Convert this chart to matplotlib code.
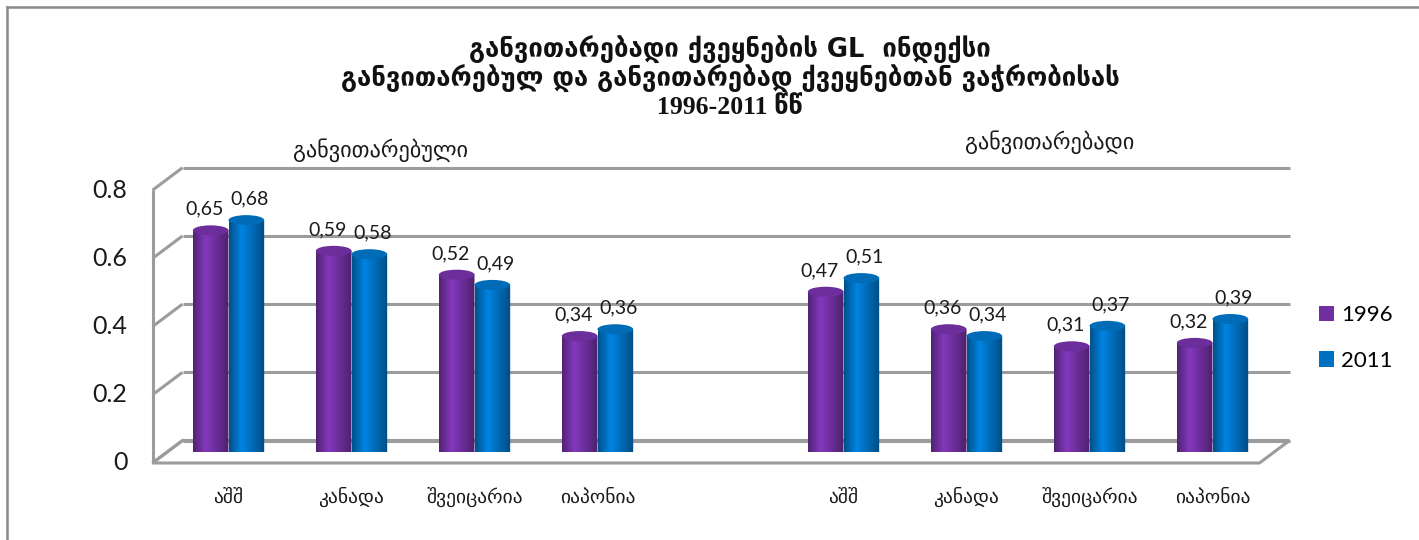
import numpy as np
import matplotlib
matplotlib.use("Agg")
import matplotlib.pyplot as plt
from matplotlib.patches import Ellipse, PathPatch, Patch, Polygon
from matplotlib.path import Path
from matplotlib.colors import to_rgb

# ---------------- data ----------------
title_lines = ["განვითარებადი ქვეყნების GL  ინდექსი",
               "განვითარებულ და განვითარებად ქვეყნებთან ვაჭრობისას",
               "1996-2011 წწ"]
group_names = ["განვითარებული", "განვითარებადი"]
countries = ["აშშ", "კანადა", "შვეიცარია", "იაპონია",
             "აშშ", "კანადა", "შვეიცარია", "იაპონია"]
series_names = ["1996", "2011"]
values_1996 = [0.65, 0.59, 0.52, 0.34, 0.47, 0.36, 0.31, 0.32]
values_2011 = [0.68, 0.58, 0.49, 0.36, 0.51, 0.34, 0.37, 0.39]
y_ticks = [0, 0.2, 0.4, 0.6, 0.8]
y_tick_labels = ["0", "0.2", "0.4", "0.6", "0.8"]

# ---------------- style ----------------
W, H, DPI = 1419, 540, 100
PURPLE = "#7030A0"
BLUE = "#0070C0"
GRID = "#9c9c9c"
NUM_FONT = ["Lato", "DejaVu Sans"]
GEO_FONT = ["DejaVu Sans"]

fig = plt.figure(figsize=(W / DPI, H / DPI), dpi=DPI)
fig.patch.set_facecolor("white")

# outer frame (chart area border)
fig.add_artist(plt.Line2D([7 / W, 7 / W], [0, 1 - 7 / H], color="#8a8a8a", lw=1.8))
fig.add_artist(plt.Line2D([7 / W, 1], [1 - 7 / H, 1 - 7 / H], color="#8a8a8a", lw=1.8))

# plot area (middle depth plane)
PX_L, PX_W = 167.0, 1107.0   # left pixel, width in pixels
PY_0, PY_S = 452.0, 341.0    # pixel of value 0, pixels per unit
ax = fig.add_axes([PX_L / W, (H - PY_0) / H, PX_W / W, PY_S / H])
ax.axis("off")
XMIN, XMAX = -0.5, 8.5
ppx = PX_W / (XMAX - XMIN)   # pixels per x unit
ppy = PY_S                   # pixels per y unit


def back(x, y):
    return x + 15.5 / ppx, y + 11.5 / ppy


def front(x, y):
    return x - 14.5 / ppx, y - 11.0 / ppy


def seg(p, q, **kw):
    ax.plot([p[0], q[0]], [p[1], q[1]], color=GRID, lw=2.2,
            solid_capstyle="butt", clip_on=False, zorder=1, **kw)


# floor
floor = Polygon([front(XMIN, 0), front(XMAX, 0), back(XMAX, 0), back(XMIN, 0)],
                closed=True, facecolor="white", edgecolor=GRID, lw=2.2,
                clip_on=False, zorder=0.5)
ax.add_patch(floor)
# back wall gridlines and left wall
for v in y_ticks:
    seg(back(XMIN, v), back(XMAX, v))
    seg(front(XMIN, v), back(XMIN, v))
seg(front(XMIN, 0), front(XMIN, y_ticks[-1]))

# y tick labels on the front plane
for v, lab in zip(y_ticks, y_tick_labels):
    ax.annotate(lab, front(XMIN, v), xytext=(-25 * 0.72, 0), textcoords="offset points",
                ha="right", va="center", fontsize=18, family=NUM_FONT,
                color="#1a1a1a", annotation_clip=False)

# category positions: 4 + empty slot + 4
idx = np.arange(len(countries))
pos = idx + (idx >= 4)
bw = 0.29


def shade(base, t):
    c = np.array(to_rgb(base))
    dark = c * 0.72
    light = np.clip(c * 1.18, 0, 1)
    stops_t = [0.0, 0.35, 1.0]
    out = np.zeros((len(t), 3))
    for k in range(3):
        out[:, k] = np.interp(t, stops_t, [dark[k], light[k], dark[k] * 0.95])
    return out


eh = 10.0 / ppy  # ellipse height in data units


def cylinderize(bars, base, ztop):
    t = np.linspace(0, 1, 64)
    grad = shade(base, t)[np.newaxis, :, :]
    topc = np.clip(np.array(to_rgb(base)) * 0.96, 0, 1)
    for r in bars:
        x0, w, h = r.get_x(), r.get_width(), r.get_height()
        r.set_visible(False)
        xc = x0 + w / 2
        th = np.linspace(np.pi, 2 * np.pi, 40)
        verts = [(x0, h), (x0, 0)]
        verts += [(xc + w / 2 * np.cos(a), eh / 2 * np.sin(a)) for a in th]
        verts += [(x0 + w, h), (x0, h)]
        codes = [Path.MOVETO] + [Path.LINETO] * (len(verts) - 2) + [Path.CLOSEPOLY]
        clip = PathPatch(Path(verts, codes), transform=ax.transData,
                         facecolor="none", edgecolor="none")
        im = ax.imshow(grad, extent=[x0, x0 + w, -eh, h], aspect="auto",
                       interpolation="bilinear", zorder=ztop, clip_on=True)
        im.set_clip_path(clip)
        ax.add_patch(Ellipse((xc, h), w, eh, facecolor=topc, edgecolor="none",
                             zorder=ztop + 0.1, clip_on=False))


b1 = ax.bar(pos - bw / 2, values_1996, bw, color=PURPLE, zorder=3)
b2 = ax.bar(pos + bw / 2, values_2011, bw, color=BLUE, zorder=4)
cylinderize(b1, PURPLE, 3)
cylinderize(b2, BLUE, 4)

# value labels
for bars, vals, dx in ((b1, values_1996, -6), (b2, values_2011, 3)):
    for r, v in zip(bars, vals):
        ax.annotate(f"{v:.2f}".replace(".", ","), (r.get_x() + r.get_width() / 2, v),
                    xytext=(dx * 0.72, 21 * 0.72), textcoords="offset points",
                    ha="center", va="center", fontsize=14, family=NUM_FONT,
                    color="#1a1a1a", annotation_clip=False, zorder=6)

# category labels
for p, name in zip(pos, countries):
    ax.annotate(name, (p, 0), xytext=(0, -45 * 0.72), textcoords="offset points",
                ha="center", va="center", fontsize=14, family=GEO_FONT,
                color="#1a1a1a", annotation_clip=False)

ax.set_xlim(XMIN, XMAX)
ax.set_ylim(0, 1)

# titles
title_y = [50, 79, 107]
title_fonts = [GEO_FONT, GEO_FONT, ["Liberation Serif", "DejaVu Sans"]]
for line, yy, fam in zip(title_lines, title_y, title_fonts):
    fig.text(730 / W, 1 - yy / H, line, ha="center", va="center", fontsize=18.5,
             fontweight="bold", family=fam, color="#111111")
fig.text(380 / W, 1 - 150 / H, group_names[0], ha="center", va="center",
         fontsize=16, family=GEO_FONT, color="#1a1a1a")
fig.text(1050 / W, 1 - 142 / H, group_names[1], ha="center", va="center",
         fontsize=16, family=GEO_FONT, color="#1a1a1a")

# legend
handles = [Patch(facecolor=PURPLE), Patch(facecolor=BLUE)]
fig.legend(handles, series_names, loc="center left",
           bbox_to_anchor=(1319 / W, 1 - 338 / H), frameon=False,
           prop={"family": NUM_FONT, "size": 16}, handlelength=0.68,
           handleheight=0.68, handletextpad=0.3, labelspacing=1.15,
           borderpad=0, borderaxespad=0)

fig.savefig("out.png", dpi=DPI, facecolor="white")
